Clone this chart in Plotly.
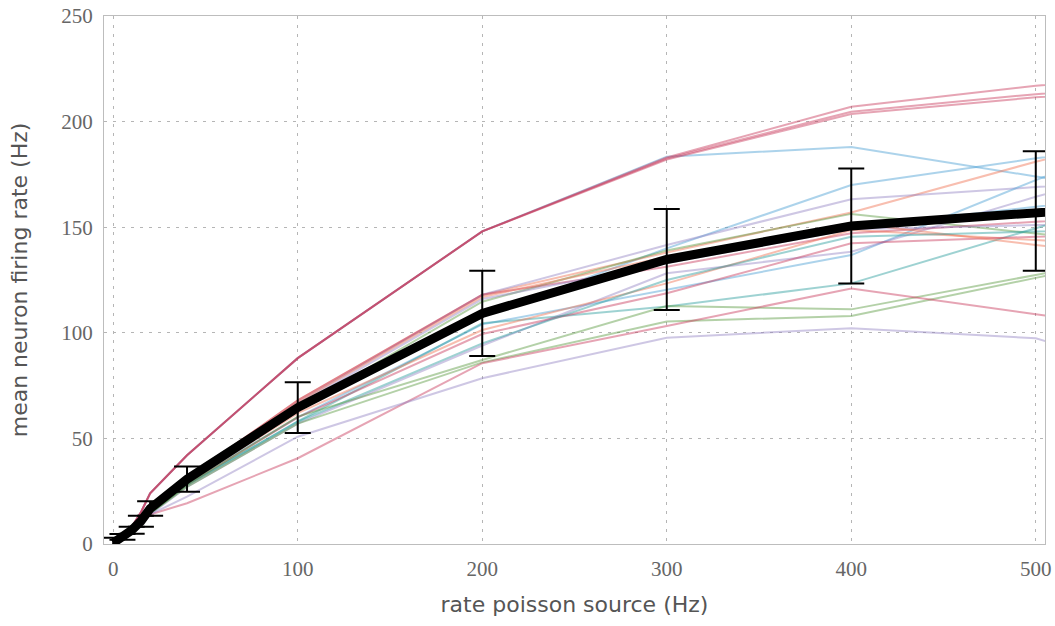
import plotly.graph_objects as go

# Poisson source rates (Hz); last point lies just past the visible axis
rate_hz = [0, 5, 10, 15, 20, 40, 100, 200, 300, 400, 500, 600]

# individual neurons (mean firing rate, Hz)
n_blue_d   = [0, 3.0, 8.0, 15, 24, 42, 88.0, 148.0, 183.4, 188.0, 174.0, 161]
n_pink_a   = [0, 3.0, 8.0, 15, 24, 42, 88.0, 148.0, 183.0, 207.0, 217.0, 224]
n_red_b    = [0, 3.0, 8.0, 15, 24, 42, 88.0, 148.0, 182.0, 203.6, 211.5, 217]
n_pink_c   = [0, 3.0, 8.0, 15, 24, 42, 88.0, 148.0, 182.5, 204.7, 213.0, 220]
n_blue_e   = [0, 2.5, 6.5, 11, 15, 31, 64.0, 107.6, 140.0, 170.0, 182.6, 193]
n_salmon_f = [0, 3.0, 7.0, 11, 16, 31, 68.0, 117.9, 138.0, 157.0, 181.0, 202]
n_purple_g = [0, 3.0, 7.0, 11, 16, 31, 67.0, 118.0, 141.6, 163.2, 169.0, 175]
n_green_h  = [0, 2.5, 6.5, 11, 16, 30, 64.0, 114.7, 139.0, 156.3, 147.0, 139]
n_blue_i   = [0, 3.0, 7.0, 11, 16, 31, 66.0, 110.0, 135.0, 150.0, 159.7, 168]
n_blue_j   = [0, 2.5, 6.0, 10.5, 15, 29, 60.0, 104.0, 120.3, 136.8, 172.3, 205]
n_purple_k = [0, 2.0, 5.5, 9.5, 14, 27, 57.0, 94.0, 128.2, 138.4, 164.4, 188]
n_red_l    = [0, 3.0, 7.0, 11.5, 16, 31, 68.0, 118.0, 131.3, 147.1, 152.6, 157]
n_purple_m = [0, 3.0, 7.0, 11, 16, 31, 66.0, 116.0, 133.0, 149.0, 151.0, 152]
n_teal_n   = [0, 2.5, 6.0, 10, 15, 28, 58.0, 104.5, 112.4, 123.4, 149.5, 175]
n_salmon_p = [0, 2.5, 6.5, 10.5, 15, 29, 62.0, 101.3, 123.4, 148.7, 143.9, 139]
n_red_q    = [0, 2.5, 6.0, 10, 15, 28, 60.0, 99.4, 118.7, 142.4, 145.5, 148]
n_salmon_r = [0, 3.0, 7.0, 11, 16, 31, 67.0, 117.0, 136.0, 152.0, 141.6, 132]
n_teal_s   = [0, 2.5, 6.0, 10, 14.5, 28, 57.9, 95.0, 125.0, 145.5, 148.0, 150]
n_green_t  = [0, 2.5, 6.0, 10, 14.5, 28, 60.3, 87.1, 112.7, 111.1, 127.4, 143]
n_green_u  = [0, 2.5, 6.0, 10, 14.5, 27, 57.0, 86.0, 105.3, 108.0, 126.0, 143]
n_red_v    = [0, 2.0, 5.0, 9, 14, 19.3, 40.6, 85.6, 103.2, 121.0, 108.8, 97]
n_purple_w = [0, 2.0, 5.0, 9, 14, 22.4, 50.8, 78.5, 97.7, 102.1, 97.4, 71]

# population mean and its error
mean_rate = [0.5, 3.4, 6.5, 10.8, 16.8, 30.7, 64.6, 109.2, 134.7, 150.6, 157.7, 163]
mean_err  = [2.5, 1.35, 1.7, 2.6, 3.4, 6.0, 12.0, 20.2, 23.9, 27.2, 28.3, 0]

RED, BLUE, GREEN = "#c8385a", "#4a9fd4", "#5a9a40"
PURPLE, SALMON, TEAL = "#9484c4", "#f07050", "#2a9d9d"

neurons = [
    (n_blue_d, BLUE), (n_pink_a, RED), (n_red_b, RED), (n_pink_c, RED),
    (n_blue_e, BLUE), (n_salmon_f, SALMON), (n_purple_g, PURPLE),
    (n_green_h, GREEN), (n_blue_i, BLUE), (n_blue_j, BLUE),
    (n_purple_k, PURPLE), (n_red_l, RED), (n_purple_m, PURPLE),
    (n_teal_n, TEAL), (n_salmon_p, SALMON), (n_red_q, RED),
    (n_salmon_r, SALMON), (n_teal_s, TEAL), (n_green_t, GREEN),
    (n_green_u, GREEN), (n_red_v, RED), (n_purple_w, PURPLE),
]

fig = go.Figure()
for vals, col in neurons:
    fig.add_trace(go.Scatter(x=rate_hz, y=vals, mode="lines",
                             line=dict(color=col, width=2), opacity=0.45,
                             showlegend=False, hoverinfo="skip"))

fig.add_trace(go.Scatter(
    x=rate_hz, y=mean_rate, mode="lines",
    line=dict(color="black", width=9),
    error_y=dict(type="data", array=mean_err, visible=True,
                 color="black", thickness=2, width=13),
    showlegend=False))

grid = dict(showgrid=True, gridcolor="#b5b5b5", gridwidth=1, griddash="3px,6px",
            showline=True, mirror=True, linecolor="#bdbdbd", linewidth=1,
            zeroline=False, ticks="outside", ticklen=6, tickcolor="rgba(0,0,0,0)",
            automargin=False,
            tickfont=dict(family="Liberation Serif", size=21, color="#666666"))

fig.update_layout(
    width=1055, height=626,
    margin=dict(l=104, r=10, t=16, b=82),
    plot_bgcolor="white", paper_bgcolor="white",
    xaxis=dict(range=[-5, 505], tickvals=[0, 100, 200, 300, 400, 500],
               title=dict(text="rate poisson source (Hz)",
                          font=dict(family="DejaVu Sans", size=22, color="#555555"),
                          standoff=16),
               **grid),
    yaxis=dict(range=[0, 250], tickvals=[0, 50, 100, 150, 200, 250],
               title=dict(text="mean neuron firing rate (Hz)",
                          font=dict(family="DejaVu Sans", size=22, color="#555555"),
                          standoff=27),
               **grid),
)

fig.write_html("out.html")
